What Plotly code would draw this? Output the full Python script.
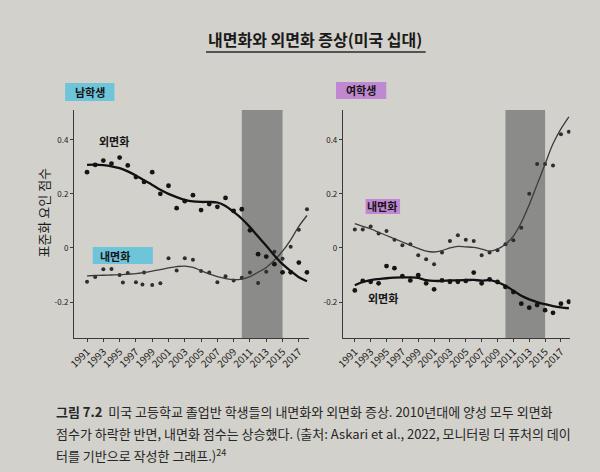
import plotly.graph_objects as go

# ---- data (standardised factor scores) ----
years = list(range(1991, 2019))

boys_ext_pts = [0.28, 0.307, 0.323, 0.312, 0.334, 0.305, 0.262, 0.244, 0.28, 0.2,
                0.23, 0.147, 0.173, 0.195, 0.14, 0.162, 0.152, 0.185, 0.137, 0.143,
                0.065, -0.023, -0.032, -0.06, -0.09, -0.09, -0.054, -0.09]
boys_ext_trend = [0.307, 0.308, 0.306, 0.302, 0.295, 0.283, 0.268, 0.25, 0.233, 0.215,
                  0.2, 0.188, 0.178, 0.172, 0.17, 0.17, 0.168, 0.155, 0.133, 0.108,
                  0.077, 0.042, 0.008, -0.028, -0.06, -0.085, -0.108, -0.123]

boys_int_years = [1991, 1992, 1993, 1994, 1995, 1995.4, 1996, 1997, 1997.8, 1998, 1999, 2000,
                  2001, 2002, 2003, 2004, 2005, 2006, 2007, 2008, 2009, 2010, 2011,
                  2012, 2013, 2014, 2015, 2016, 2017, 2018]
boys_int_pts = [-0.125, -0.107, -0.079, -0.078, -0.1, -0.128, -0.093, -0.127, -0.135, -0.091,
                -0.137, -0.131, -0.038, -0.083, -0.038, -0.044, -0.085, -0.091, -0.127,
                -0.105, -0.12, -0.11, -0.091, -0.13, -0.088, -0.014, -0.04, 0.004, 0.067, 0.143]
boys_int_trend = [-0.103, -0.102, -0.101, -0.1, -0.099, -0.097, -0.095, -0.091, -0.086, -0.08,
                  -0.074, -0.069, -0.067, -0.072, -0.084, -0.096, -0.106, -0.113, -0.117, -0.115,
                  -0.106, -0.09, -0.072, -0.045, -0.012, 0.03, 0.08, 0.12]

girls_int_pts = [0.068, 0.068, 0.079, 0.053, 0.063, 0.03, 0.01, 0.014, -0.027, -0.042,
                 -0.06, -0.017, 0.026, 0.047, 0.03, 0.026, -0.027, -0.017, -0.009, 0.014,
                 0.028, 0.075, 0.2, 0.31, 0.31, 0.305, 0.42, 0.43]
girls_int_trend = [0.09, 0.08, 0.07, 0.058, 0.046, 0.034, 0.022, 0.01, -0.002, -0.012,
                   -0.015, -0.01, 0.0, 0.006, 0.004, 0.002, -0.004, -0.012, -0.004, 0.014,
                   0.044, 0.094, 0.16, 0.235, 0.31, 0.385, 0.44, 0.485]

girls_ext_pts = [-0.157, -0.122, -0.125, -0.131, -0.067, -0.075, -0.104, -0.12, -0.101, -0.131,
                 -0.153, -0.12, -0.125, -0.125, -0.122, -0.091, -0.131, -0.116, -0.126, -0.144,
                 -0.163, -0.206, -0.221, -0.211, -0.23, -0.24, -0.206, -0.199]
girls_ext_trend = [-0.138, -0.126, -0.119, -0.115, -0.112, -0.11, -0.109, -0.109, -0.111, -0.119,
                   -0.122, -0.122, -0.12, -0.12, -0.119, -0.118, -0.121, -0.119, -0.127, -0.14,
                   -0.158, -0.177, -0.19, -0.2, -0.208, -0.215, -0.22, -0.223]

shade_span = [2010, 2015]
x_ticks = list(range(1991, 2018, 2))
y_ticks = [0.4, 0.2, 0, -0.2]
y_tick_text = ["0.4", "0.2", "0", "-0.2"]

title_text = "내면화와 외면화 증상(미국 십대)"
y_title = "표준화 요인 점수"
caption_lines = [
    "<b>그림 7.2</b>  미국 고등학교 졸업반 학생들의 내면화와 외면화 증상. 2010년대에 양성 모두 외면화",
    "점수가 하락한 반면, 내면화 점수는 상승했다. (출처: Askari et al., 2022, 모니터링 더 퓨처의 데이",
    "터를 기반으로 작성한 그래프.)<sup>24</sup>",
]

W, H = 600, 472
PAPER = "#d3d1cb"
CYAN = "#63c2da"
PURPLE = "#bf7fd3"
FONT = "Noto Sans CJK KR"


def px(x):
    return x / W


def py(y):
    return 1 - y / H


fig = go.Figure()

panels = [
    ("x", "y", years, boys_ext_pts, boys_ext_trend, boys_int_years, boys_int_pts, boys_int_trend),
    ("x2", "y2", years, girls_ext_pts, girls_ext_trend, years, girls_int_pts, girls_int_trend),
]
for xa, ya, ex_x, ex_p, ex_t, in_x, in_p, in_t in panels:
    fig.add_trace(go.Scatter(x=in_x, y=in_p, mode="markers", xaxis=xa, yaxis=ya,
                             marker=dict(size=4, color="#2e2e2e")))
    fig.add_trace(go.Scatter(x=years, y=in_t, mode="lines", xaxis=xa, yaxis=ya,
                             line=dict(color="#3b3b3b", width=1.3, shape="spline")))
    fig.add_trace(go.Scatter(x=ex_x, y=ex_p, mode="markers", xaxis=xa, yaxis=ya,
                             marker=dict(size=4.8, color="#151515")))
    fig.add_trace(go.Scatter(x=years, y=ex_t, mode="lines", xaxis=xa, yaxis=ya,
                             line=dict(color="#111111", width=2.3, shape="spline")))
    fig.add_shape(type="rect", xref=xa, yref=ya + " domain", x0=shade_span[0], x1=shade_span[1],
                  y0=0, y1=1, fillcolor="#8b8b89", line_width=0, layer="below")

xcommon = dict(tickmode="array", tickvals=x_ticks, tickangle=-45, showgrid=False, zeroline=False,
               showline=True, linecolor="#3a3a3a", linewidth=1, ticks="outside", ticklen=3,
               tickcolor="#3a3a3a", tickfont=dict(family=FONT, size=10, color="#1e1e1e"))
ycommon = dict(tickmode="array", tickvals=y_ticks, ticktext=y_tick_text, range=[-0.333, 0.51],
               showgrid=False, zeroline=False, showline=True, linecolor="#3a3a3a", linewidth=1,
               ticks="outside", ticklen=3, tickcolor="#3a3a3a",
               tickfont=dict(family=FONT, size=8, color="#222"))

fig.update_layout(
    width=W, height=H, paper_bgcolor=PAPER, plot_bgcolor=PAPER, showlegend=False,
    margin=dict(l=0, r=0, t=0, b=0),
    xaxis=dict(xcommon, domain=[px(66), px(305)], range=[1989.4, 2018.3], anchor="y"),
    yaxis=dict(ycommon, domain=[py(338), py(110)], anchor="x"),
    xaxis2=dict(xcommon, domain=[px(339), px(570)], range=[1989.5, 2018.2], anchor="y2"),
    yaxis2=dict(ycommon, domain=[py(338), py(110)], anchor="x2"),
)

# label boxes
boxes = [(57, 107, 83, 101, CYAN), (332, 383, 82, 99, PURPLE),
         (85, 146, 247, 264, CYAN), (362, 397, 199, 214, PURPLE)]
for x0, x1, y0, y1, c in boxes:
    fig.add_shape(type="rect", xref="paper", yref="paper", x0=px(x0), x1=px(x1),
                  y0=py(y1), y1=py(y0), fillcolor=c, line_width=0, layer="below", opacity=0.9)

labels = [("남학생", 82, 92), ("여학생", 357, 90), ("내면화", 108, 256), ("외면화", 107, 141),
          ("내면화", 379, 206), ("외면화", 380, 298)]
for txt, x, y in labels:
    fig.add_annotation(text=txt, x=px(x), y=py(y), xref="paper", yref="paper", showarrow=False,
                       xanchor="center", yanchor="middle",
                       font=dict(family=FONT, size=11, color="#151515", weight="bold"))

# title with underline
fig.add_annotation(text=title_text, x=px(311), y=py(39), xref="paper", yref="paper",
                   showarrow=False, xanchor="center", yanchor="middle",
                   font=dict(family=FONT, size=16, color="#1a1a1a", weight="bold"))
fig.add_shape(type="line", xref="paper", yref="paper", x0=px(200), x1=px(423), y0=py(52), y1=py(52),
              line=dict(color="#2a2a2a", width=1.5))

fig.add_annotation(text=y_title, x=px(35), y=py(212), xref="paper", yref="paper", showarrow=False,
                   xanchor="center", yanchor="middle", textangle=-90,
                   font=dict(family=FONT, size=13, color="#1a1a1a"))

for i, line in enumerate(caption_lines):
    fig.add_annotation(text=line, x=px(46), y=py(411 + 22 * i), xref="paper", yref="paper",
                       xanchor="left", yanchor="middle", showarrow=False,
                       font=dict(family=FONT, size=13, color="#262626"))

fig.write_html(
    "out.html",
    config={"displayModeBar": False},
    post_script="document.body.style.margin='0';document.body.style.background='%s';" % PAPER,
)
